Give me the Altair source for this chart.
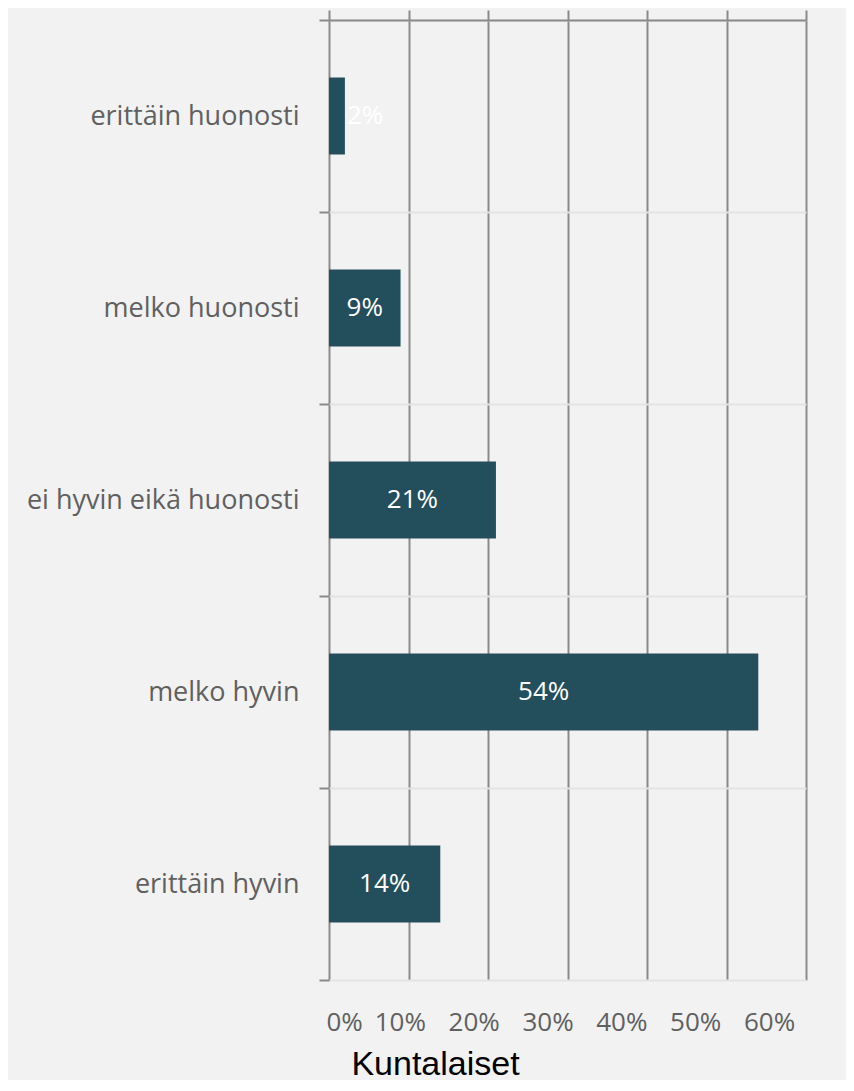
import altair as alt
import pandas as pd

categories = ["erittäin huonosti", "melko huonosti", "ei hyvin eikä huonosti", "melko hyvin", "erittäin hyvin"]
values = [0.02, 0.09, 0.21, 0.54, 0.14]
labels = ["2%", "9%", "21%", "54%", "14%"]
ticks = [0, 0.1, 0.2, 0.3, 0.4, 0.5, 0.6]

df = pd.DataFrame({"cat": categories, "val": values, "lab": labels})
df["mid"] = df["val"] / 2

BAR = "#234e5b"
GRID_DARK = "#8a8a8a"
TXT = "#606060"
FONT = "Open Sans"

yscale = alt.Scale(paddingInner=0, paddingOuter=0)
y_axis = alt.Y("cat:N", sort=categories, title=None, scale=yscale,
               axis=alt.Axis(domain=False, ticks=True, tickSize=10, tickColor=GRID_DARK, tickWidth=2,
                             tickBand="extent", grid=True, gridColor="#e3e3e3", gridWidth=2,
                             labelFont=FONT, labelFontSize=27, labelColor=TXT, labelPadding=20,
                             labelLimit=400))

xscale = alt.Scale(domain=[0, 0.6], nice=False)
# the reference's tick labels sit on a slightly narrower spacing than its gridlines
label_scale = alt.Scale(domain=[0, 0.646], nice=False)

base = alt.Chart(df)

grid_layer = base.mark_bar(opacity=0).encode(
    x=alt.X("val:Q", scale=xscale,
            axis=alt.Axis(orient="bottom", values=ticks, labels=False,
                          domain=False, ticks=False, grid=True, gridColor=GRID_DARK, gridWidth=2,
                          title=None)),
    y=y_axis,
)

label_layer = base.mark_bar(opacity=0).encode(
    x=alt.X("val:Q", scale=label_scale,
            axis=alt.Axis(orient="bottom", format="%", values=ticks,
                          domain=False, ticks=False, grid=False, labelOffset=-3,
                          labelFont=FONT, labelFontSize=26, labelColor=TXT, labelPadding=29,
                          title="Kuntalaiset", titleFont="Liberation Sans", titleFontSize=34,
                          titleFontWeight="normal", titleColor="#000000", titleX=106, titleY=94,
                          titleAlign="center", titleBaseline="alphabetic")),
    y=y_axis,
)

bars = base.mark_bar(color=BAR, height={"band": 0.4}).encode(
    x=alt.X("val:Q", scale=xscale,
            axis=alt.Axis(orient="top", values=ticks,
                          domain=True, domainColor=GRID_DARK, domainWidth=2,
                          ticks=True, tickSize=10, tickColor=GRID_DARK, tickWidth=2,
                          labels=False, grid=False, title=None)),
    y=y_axis,
)

text_in = base.transform_filter("datum.val >= 0.05").mark_text(
    color="white", font=FONT, fontSize=26, align="center", baseline="middle"
).encode(x=alt.X("mid:Q", scale=xscale, axis=None), y=y_axis, text="lab:N")

text_out = base.transform_filter("datum.val < 0.05").mark_text(
    color="white", font=FONT, fontSize=26, align="left", baseline="middle", dx=2
).encode(x=alt.X("val:Q", scale=xscale, axis=None), y=y_axis, text="lab:N")

chart = alt.layer(grid_layer, label_layer, bars, text_in, text_out).resolve_scale(
    x="independent"
).resolve_axis(x="independent").properties(
    width=477, height=960,
    background="#f2f2f2",
    padding={"left": 321, "top": 12, "right": 40, "bottom": 100},
    autosize=alt.AutoSizeParams(type="none"),
).configure_view(stroke=None)

chart.save("out.html", embed_options={"renderer": "svg", "actions": False})
